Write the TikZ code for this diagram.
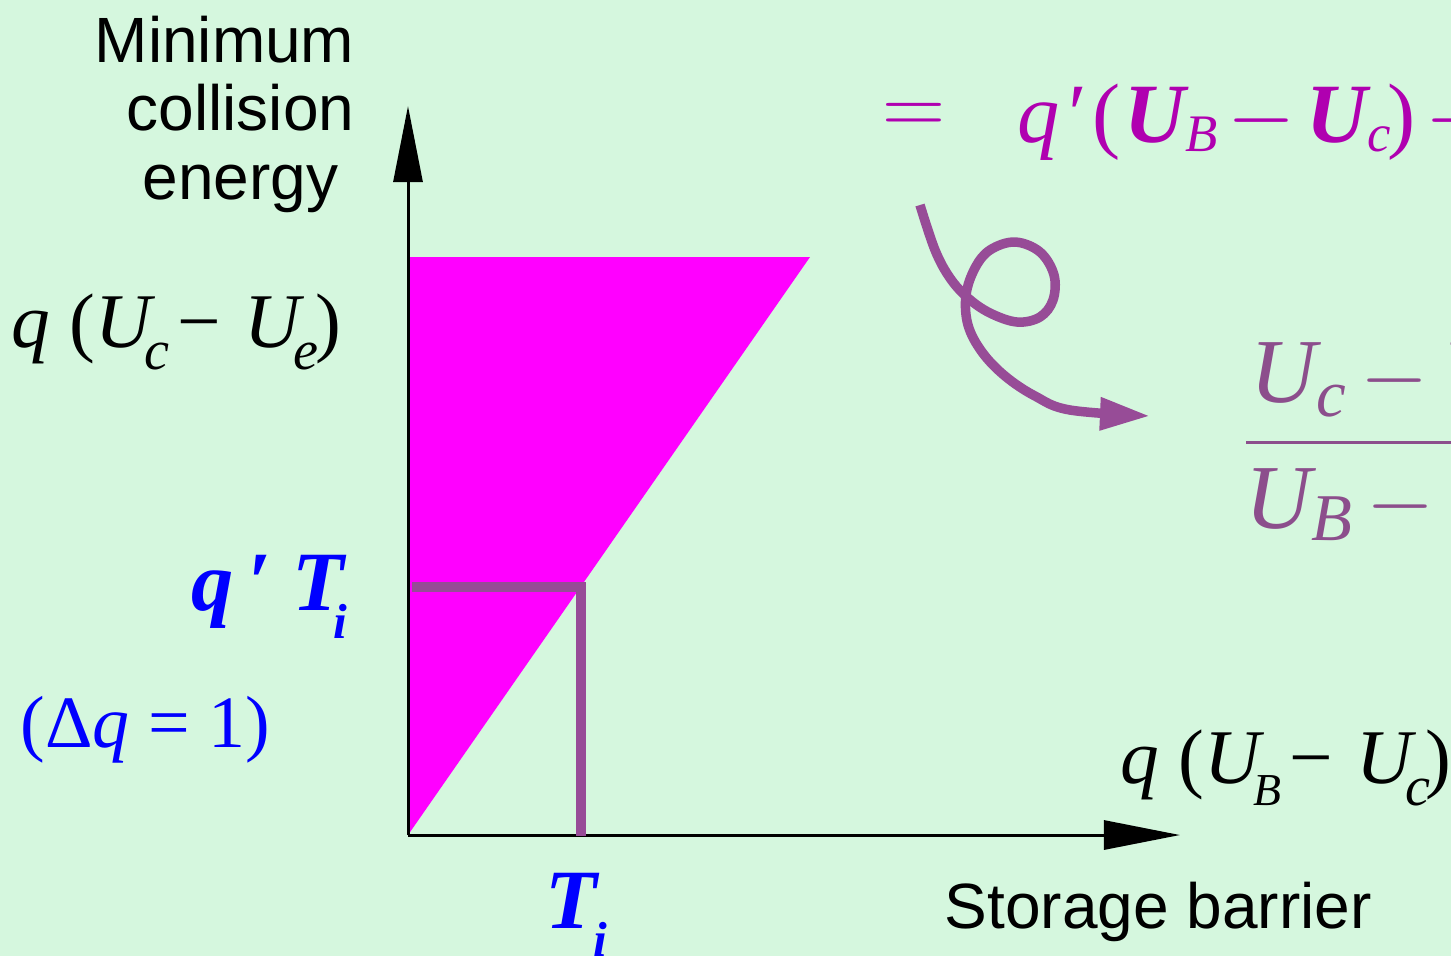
\documentclass[tikz,border=0pt]{standalone}
\usepackage{fontspec}
\usepackage{xcolor}
\usepackage{tikz}
\usetikzlibrary{arrows.meta}
\newfontfamily\arialfont{Liberation Sans}
\newfontfamily\timesfont{Liberation Serif}
\definecolor{mintbg}{HTML}{D5F7DE}
\definecolor{pinkfill}{HTML}{FF00FF}
\definecolor{plum}{HTML}{974C97}
\definecolor{eqmagenta}{HTML}{B000B0}
\definecolor{fracplum}{HTML}{8C4E8C}
\newcommand{\lowsub}[3]{\raisebox{#3}{\fontsize{#2}{#2}\selectfont #1}}
\newcommand{\mminus}{{\normalfont$-$}}

\begin{document}
\begin{tikzpicture}[
        x=0.01cm, y=-0.01cm,
        axis/.style={-{Triangle[length=0.76cm, width=0.29cm]}, line width=0.03cm, black},
        guide/.style={plum, line width=0.1cm},
        curl/.style={plum, line width=0.095cm, -{Triangle[length=0.5cm, width=0.31cm]}},
        sanslabel/.style={font=\arialfont\fontsize{18.2}{19.5}\selectfont, inner sep=0pt},
        seriflabel/.style={font=\timesfont\itshape\fontsize{22}{22}\selectfont, inner sep=0pt},
        bluelabel/.style={font=\timesfont\bfseries\itshape\fontsize{24}{24}\selectfont, text=blue, inner sep=0pt},
        eqlabel/.style={font=\timesfont\itshape\fontsize{24}{24}\selectfont, text=eqmagenta, inner sep=0pt},
        fraclabel/.style={font=\timesfont\itshape\fontsize{26}{26}\selectfont, text=fracplum, inner sep=0pt}
    ]
        % Frame
        \useasboundingbox (0,0) rectangle (1451,956);
        \clip (0,0) rectangle (1451,956);
        \fill[mintbg] (0,0) rectangle (1451,956);

        % Axes points
        \coordinate (origin) at (408,835);
        \coordinate (ytip) at (408,106);
        \coordinate (xtip) at (1180,835);

        % Allowed region
        \fill[pinkfill] (origin) -- (408,257) -- (810,257) -- cycle;

        % Axes
        \draw[axis] (origin) -- (ytip);
        \draw[axis] (origin) -- (xtip);

        % Guide lines
        \coordinate (qstart) at (412,587);
        \coordinate (tfoot) at (581,836);
        \draw[guide] (qstart) -| (tfoot);

        % Axis labels
        \node[sanslabel, align=right, anchor=north east] (yname) at (355,15) {Minimum\\collision\\energy\hspace*{4.5pt}};
        \node[sanslabel, anchor=base west] (xname) at (944,928) {Storage barrier};
        \node[seriflabel, anchor=base west] (ytop) at (11,347)
            {q \textup{(}U\kern-2pt\lowsub{c}{16pt}{-6.5pt}\kern1pt−\ U\kern-2pt\lowsub{e}{16pt}{-6.5pt}\kern-0.8pt\textup{)}};
        \node[seriflabel, anchor=base west] (xtop) at (1120,783)
            {q \textup{(}U\kern-2pt\lowsub{B}{13pt}{-6.5pt}\kern1pt−\ U\kern-2pt\lowsub{c}{16pt}{-6.5pt}\kern-1.2pt\textup{)}};

        % Blue labels
        \node[bluelabel, anchor=base east] (qTi) at (348,610) {q\kern4pt′\kern6pt T\kern-3pt\lowsub{i}{14pt}{-8pt}};
        \node[bluelabel, anchor=base west] (Ti) at (545,928) {T\kern-1pt\lowsub{i}{14pt}{-8pt}};
        \node[font=\timesfont\fontsize{21}{21}\selectfont, text=blue, inner sep=0pt, anchor=base west] (dq) at (20,747)
            {(Δ\textit{q} = 1)};

        % Formula
        \node[font=\fontsize{24}{24}\selectfont, text=eqmagenta, inner sep=0pt] (eqsign) at (914,119) {$=$};
        \node[eqlabel, anchor=base west] (eq) at (1017,142)
            {q\kern1pt′\kern3pt\textup{(}\kern1pt\textbf{U}\lowsub{B}{15pt}{-2.8pt}\kern3pt\mminus\kern3pt\textbf{U}\lowsub{c}{15pt}{-2.8pt}\kern-1pt\textup{)}\kern3pt\mminus};

        % Curly arrow
        \draw[curl] plot[smooth, tension=0.6] coordinates {
            (920,205) (935,250) (950,278) (968,298) (990,313) (1017,322) (1040,317) (1053,300)
            (1054,275) (1040,252) (1015,242) (990,250) (975,268) (966,295) (968,325) (982,352)
            (1005,376) (1035,396) (1070,410) (1150,416)};

        % Fraction
        \draw[fracplum, line width=0.03cm] (1246,442) -- (1460,442);
        \node[fraclabel, anchor=base west] (num) at (1250,402)
            {U\lowsub{c}{19pt}{-4pt}\kern4pt\mminus\kern4pt U};
        \node[fraclabel, anchor=base west] (den) at (1245,528)
            {U\lowsub{B}{19pt}{-3.5pt}\kern4pt\mminus};
\end{tikzpicture}
\end{document}
